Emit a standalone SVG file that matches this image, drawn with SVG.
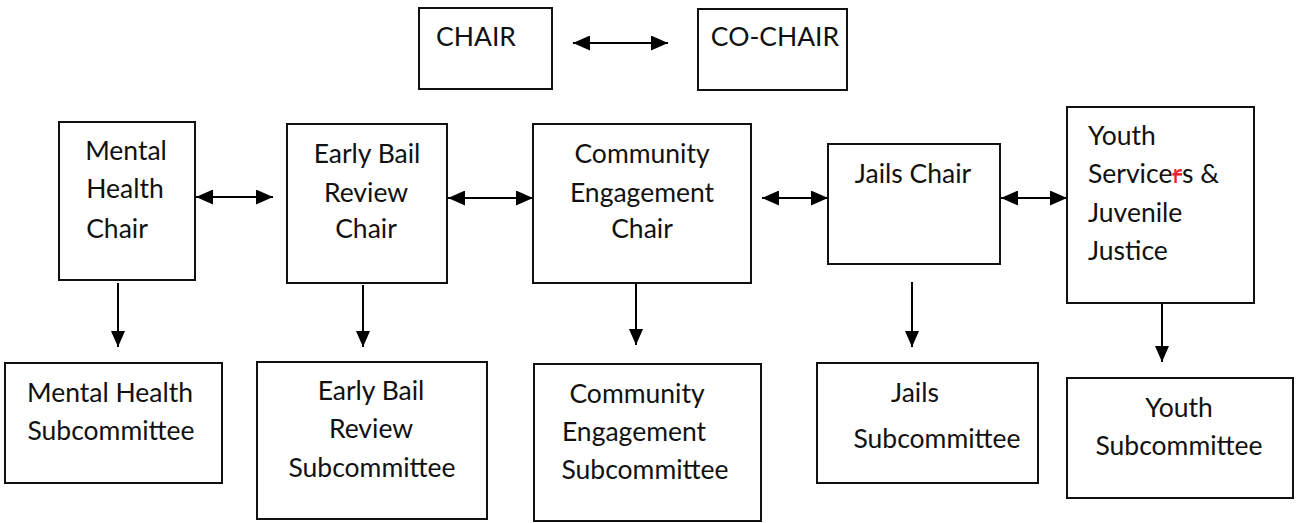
<svg xmlns="http://www.w3.org/2000/svg" width="1298" height="523" viewBox="0 0 1298 523">
<style>
.box{fill:#fff;stroke:#111;stroke-width:2}
.t{font-family:Lato,"Liberation Sans",sans-serif;font-size:26.5px;fill:#111;text-anchor:middle}
.l{text-anchor:start}
.c{stroke:#000;stroke-width:2;fill:none}
.h{marker-start:url(#ah);marker-end:url(#ah)}
.v{marker-end:url(#av)}
</style>
<defs>
<marker id="ah" viewBox="0 0 10 10" refX="10" refY="5" markerUnits="userSpaceOnUse" markerWidth="17" markerHeight="15" orient="auto-start-reverse" preserveAspectRatio="none"><path d="M0,0 L10,5 L0,10 z" fill="#000"/></marker>
<marker id="av" viewBox="0 0 10 10" refX="10" refY="5" markerUnits="userSpaceOnUse" markerWidth="16" markerHeight="14" orient="auto" preserveAspectRatio="none"><path d="M0,0 L10,5 L0,10 z" fill="#000"/></marker>
</defs>
<rect width="1298" height="523" fill="#fff"/>
<g id="connectors">
<line class="c h" x1="573" y1="43" x2="668" y2="43"/>
<line class="c h" x1="196" y1="197" x2="273" y2="197"/>
<line class="c h" x1="448" y1="198" x2="533" y2="198"/>
<line class="c h" x1="762" y1="198" x2="828" y2="198"/>
<line class="c h" x1="1001" y1="198" x2="1067" y2="198"/>
<line class="c v" x1="118" y1="283" x2="118" y2="347"/>
<line class="c v" x1="363" y1="285" x2="363" y2="347"/>
<line class="c v" x1="636" y1="283" x2="636" y2="345"/>
<line class="c v" x1="912" y1="282" x2="912" y2="347"/>
<line class="c v" x1="1162" y1="304" x2="1162" y2="362"/>
</g>
<g id="chair"><rect class="box" x="419" y="8" width="133" height="81"/><text class="t" x="476" y="46">CHAIR</text></g>
<g id="co-chair"><rect class="box" x="698" y="9" width="149" height="81"/><text class="t" x="775" y="46">CO-CHAIR</text></g>
<g id="mh-chair"><rect class="box" x="59" y="122" width="136" height="158"/>
<text class="t" x="126" y="160">Mental</text><text class="t" x="125" y="198">Health</text><text class="t" x="117" y="238">Chair</text></g>
<g id="eb-chair"><rect class="box" x="287" y="124" width="160" height="159"/>
<text class="t" x="367" y="163">Early Bail</text><text class="t" x="366" y="202">Review</text><text class="t" x="366" y="238">Chair</text></g>
<g id="ce-chair"><rect class="box" x="533" y="124" width="218" height="159"/>
<text class="t" x="642" y="163">Community</text><text class="t" x="642" y="202">Engagement</text><text class="t" x="642" y="238">Chair</text></g>
<g id="jails-chair"><rect class="box" x="828" y="144" width="172" height="120"/>
<text class="t" x="913" y="183">Jails Chair</text></g>
<g id="youth-chair"><rect class="box" x="1067" y="107" width="187" height="196"/>
<text class="t l" x="1088" y="145">Youth</text>
<text class="t l" x="1088" y="183">Service<tspan fill="#e02b2b" text-decoration="line-through">r</tspan>s &amp;</text>
<text class="t l" x="1088" y="222">Juvenile</text>
<text class="t l" x="1088" y="260">Justice</text></g>
<g id="mh-sub"><rect class="box" x="5" y="363" width="217" height="120"/>
<text class="t" x="110" y="402">Mental Health</text><text class="t" x="111" y="440">Subcommittee</text></g>
<g id="eb-sub"><rect class="box" x="257" y="362" width="230" height="157"/>
<text class="t" x="371" y="400">Early Bail</text><text class="t" x="371" y="438">Review</text><text class="t" x="372" y="477">Subcommittee</text></g>
<g id="ce-sub"><rect class="box" x="534" y="364" width="227" height="157"/>
<text class="t" x="637" y="403">Community</text><text class="t" x="634" y="441">Engagement</text><text class="t" x="645" y="479">Subcommittee</text></g>
<g id="jails-sub"><rect class="box" x="817" y="363" width="221" height="120"/>
<text class="t" x="915" y="402">Jails</text><text class="t" x="937" y="448">Subcommittee</text></g>
<g id="youth-sub"><rect class="box" x="1067" y="378" width="226" height="120"/>
<text class="t" x="1179" y="417">Youth</text><text class="t" x="1179" y="455">Subcommittee</text></g>
</svg>
